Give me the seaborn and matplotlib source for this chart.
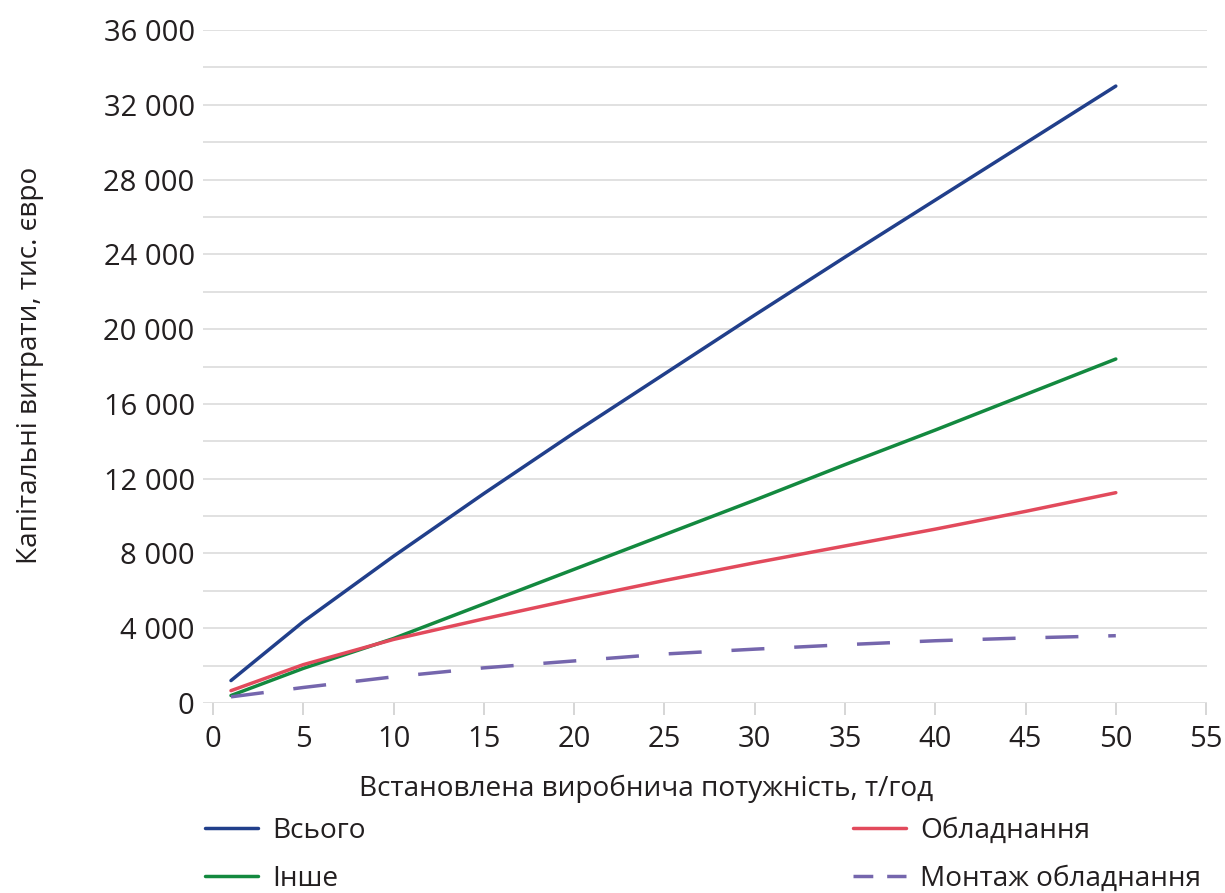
import numpy as np
import pandas as pd
import matplotlib
matplotlib.use("Agg")
import matplotlib.pyplot as plt
import seaborn as sns
from matplotlib.ticker import FuncFormatter, MultipleLocator
from matplotlib.lines import Line2D

# ---- data ----
capacity = [1, 5, 10, 15, 20, 25, 30, 35, 40, 45, 50]
total = [1200, 4350, 7850, 11200, 14450, 17600, 20750, 23850, 26900, 29950, 33000]
other = [400, 1850, 3450, 5300, 7150, 9000, 10850, 12750, 14600, 16500, 18400]
equipment = [660, 2050, 3400, 4500, 5550, 6550, 7500, 8400, 9300, 10250, 11250]
installation = [330, 830, 1400, 1880, 2250, 2620, 2880, 3120, 3330, 3480, 3600]

names = ["Всього", "Інше", "Обладнання", "Монтаж обладнання"]
series = [total, other, equipment, installation]
colors = {"Всього": "#213f8b", "Інше": "#13893f", "Обладнання": "#e24a5c",
          "Монтаж обладнання": "#7566ad"}

x_label = "Встановлена виробнича потужність, т/год"
y_label = "Капітальні витрати, тис. євро"

df = pd.DataFrame({
    "x": np.tile(capacity, len(names)),
    "y": np.concatenate(series),
    "s": np.repeat(names, len(capacity)),
})

sns.set_theme(style="white")
plt.rcParams["font.family"] = ["Open Sans", "DejaVu Sans"]
txt = "#231f20"
fs = 21
fs_lab = 20.2

fig = plt.figure(figsize=(12.25, 8.93), dpi=100)
ax = fig.add_axes([203/1225, 190/893, 1004/1225, 673/893])

lw = 2.5
dashes = {"Всього": "", "Інше": "", "Обладнання": "", "Монтаж обладнання": (9.5, 8.6)}
sns.lineplot(data=df, x="x", y="y", hue="s", style="s", palette=colors,
             dashes=dashes, hue_order=names, style_order=names,
             linewidth=lw, legend=False, ax=ax, zorder=3)

ax.set_xlim(-0.55, 55.05)
ax.set_ylim(0, 36000)
ax.xaxis.set_major_locator(MultipleLocator(5))
ax.yaxis.set_major_locator(MultipleLocator(4000))
ax.yaxis.set_minor_locator(MultipleLocator(2000))
ax.yaxis.set_major_formatter(FuncFormatter(lambda v, p: f"{int(v):,}".replace(",", " ")))
ax.grid(axis="y", which="both", color="#dedede", linewidth=1.3, zorder=0)
ax.grid(axis="x", visible=False)
for sp in ax.spines.values():
    sp.set_visible(False)
ax.tick_params(axis="x", which="major", length=8.5, width=1.2, color="#cfcfcf",
               direction="out", pad=7, labelsize=fs, labelcolor=txt, bottom=True)
ax.tick_params(axis="y", which="both", length=0, pad=6, labelsize=fs, labelcolor=txt)
ax.set_xlabel("")
ax.set_ylabel("")

fig.text(646/1225, 1 - 789/893, x_label, ha="center", va="center", fontsize=fs_lab, color=txt)
fig.text(30/1225, 1 - 365/893, y_label, ha="center", va="center", rotation=90,
         fontsize=fs_lab, color=txt)

def handle(n):
    if n == "Монтаж обладнання":
        return Line2D([], [], color=colors[n], lw=lw, dashes=(5.7, 4.0))
    return Line2D([], [], color=colors[n], lw=lw)

kw = dict(loc="upper left", frameon=False, fontsize=fs_lab, handlelength=1.9,
          handletextpad=0.5, labelspacing=0.72, borderpad=0, borderaxespad=0,
          labelcolor=txt)
leg1 = fig.legend([handle(n) for n in names[:2]], names[:2],
                  bbox_to_anchor=(205/1225, 1 - 817/893), **kw)
leg2 = fig.legend([handle(n) for n in names[2:]], names[2:],
                  bbox_to_anchor=(853/1225, 1 - 817/893), **kw)

fig.savefig("out.png", dpi=100)
